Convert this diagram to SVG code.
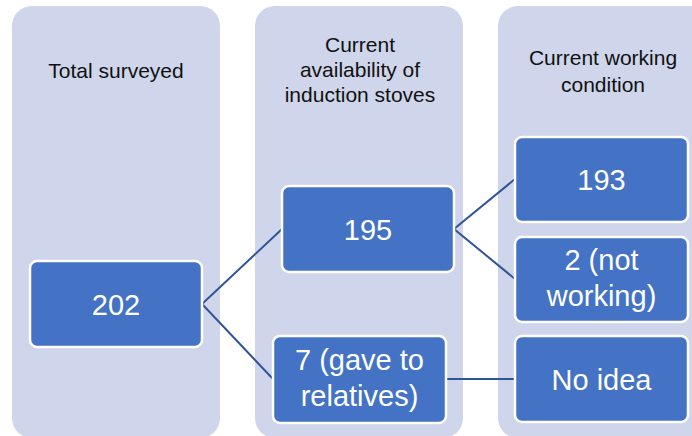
<svg xmlns="http://www.w3.org/2000/svg" width="692" height="436" viewBox="0 0 692 436">
<style>
.col{fill:#CFD5EA}
.node rect{fill:#4472C4;stroke:#FFFFFF;stroke-width:2.5}
.hdr{font-family:"Liberation Sans",Arial,sans-serif;font-size:21px;fill:#111111;text-anchor:middle}
.lbl{font-family:"Liberation Sans",Arial,sans-serif;font-size:29px;fill:#FFFFFF;text-anchor:middle}
.conn{stroke:#2F5597;stroke-width:2;fill:none}
</style>
<rect width="692" height="436" fill="#FFFFFF"/>
<g id="columns">
<rect class="col" x="12" y="6" width="208" height="432" rx="20"/>
<rect class="col" x="255" y="6" width="208" height="432" rx="20"/>
<rect class="col" x="498" y="6" width="214" height="432" rx="20"/>
<text class="hdr" x="116" y="78">Total surveyed</text>
<text class="hdr" x="360" y="52">Current</text>
<text class="hdr" x="360" y="77">availability of</text>
<text class="hdr" x="360" y="102">induction stoves</text>
<text class="hdr" x="603" y="65">Current working</text>
<text class="hdr" x="603" y="92">condition</text>
</g>
<g id="connectors">
<polyline class="conn" points="282,229 202,304 273,379"/>
<polyline class="conn" points="515,179 454,229 515,279"/>
<line class="conn" x1="446" y1="379" x2="515" y2="379"/>
</g>
<g id="n202" class="node">
<rect x="30" y="261" width="172" height="86" rx="7"/>
<text class="lbl" x="116" y="315">202</text>
</g>
<g id="n195" class="node">
<rect x="282" y="186" width="172" height="86" rx="7"/>
<text class="lbl" x="368" y="240">195</text>
</g>
<g id="n7" class="node">
<rect x="273" y="336" width="173" height="87" rx="7"/>
<text class="lbl" x="359.5" y="370">7 (gave to</text>
<text class="lbl" x="359.5" y="406">relatives)</text>
</g>
<g id="n193" class="node">
<rect x="515" y="137" width="173" height="85" rx="7"/>
<text class="lbl" x="601.5" y="190">193</text>
</g>
<g id="n2" class="node">
<rect x="515" y="237" width="173" height="85" rx="7"/>
<text class="lbl" x="601.5" y="270">2 (not</text>
<text class="lbl" x="601.5" y="306">working)</text>
</g>
<g id="nNoIdea" class="node">
<rect x="515" y="336" width="173" height="86" rx="7"/>
<text class="lbl" x="601.5" y="390">No idea</text>
</g>
</svg>
